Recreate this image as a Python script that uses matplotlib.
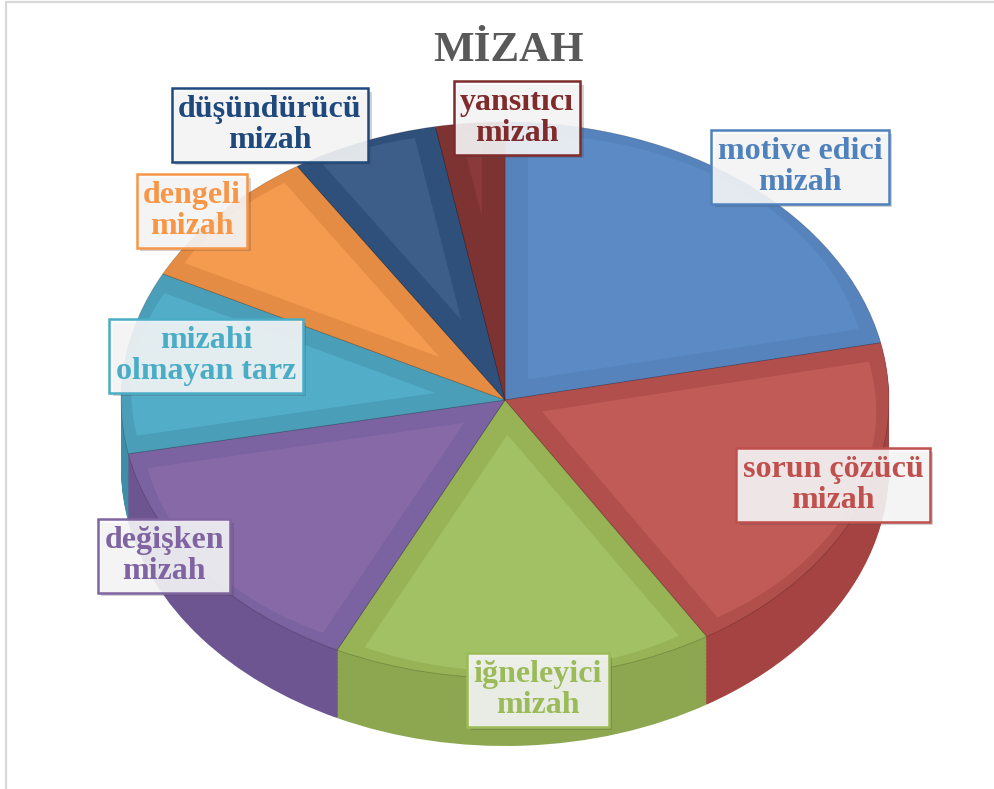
import numpy as np
import matplotlib
matplotlib.use("Agg")
import matplotlib.pyplot as plt
from matplotlib.patheffects import SimplePatchShadow, Normal

# ---- data ----
labels = ["motive edici\nmizah", "sorun çözücü\nmizah", "iğneleyici\nmizah",
          "değişken\nmizah", "mizahi\nolmayan tarz", "dengeli\nmizah",
          "düşündürücü\nmizah", "yansıtıcı\nmizah"]
values = [21.7, 19.5, 16.0, 14.7, 10.6, 8.4, 6.2, 2.9]
title = "MİZAH"

# ---- styles ----
bevel_colors = ["#5683BC", "#B14F4D", "#97B356", "#7B62A0", "#4A9EB8", "#E48C44", "#2F507A", "#7E3333"]
face_colors = ["#5B8AC4", "#C05B58", "#A2C064", "#8769A8", "#52AEC8", "#F59B50", "#3D5E89", "#8A3A3A"]
side_colors = ["#43699C", "#A44341", "#8CA750", "#6C5590", "#3F8EA6", "#D5803A", "#253F62", "#662626"]
text_colors = ["#4F81BD", "#C0504D", "#9BBB59", "#8064A2", "#4BACC6", "#F79646", "#1F497D", "#7F2B2B"]
label_pos = [(800, 167), (833, 485), (538, 690), (164, 556), (206, 356), (192, 211), (270, 125), (517, 118)]

W, H = 994, 789
cx, cy, rx, ry, depth = 505, 400, 384, 278, 68

fig = plt.figure(figsize=(W / 100, H / 100), dpi=100)

# background frame
bg = fig.add_axes([0, 0, 1, 1])
bg.set_xlim(0, W)
bg.set_ylim(H, 0)
bg.axis("off")
bg.plot([6, 6], [1, H], color="#D9D9D9", lw=1.6, solid_capstyle="butt")
bg.plot([5, W], [1.5, 1.5], color="#D9D9D9", lw=1.6, solid_capstyle="butt")

# pie axes
d = depth / ry
ax = fig.add_axes([(cx - rx) / W, (H - (cy + ry + depth)) / H, 2 * rx / W, (2 * ry + depth) / H])

N = 50
for k in range(N, 0, -1):
    off = d * k / N
    ax.pie(values, startangle=90, counterclock=False, colors=side_colors,
           center=(0, -off), radius=1, wedgeprops=dict(linewidth=0))

# top face
ax.pie(values, startangle=90, counterclock=False, colors=bevel_colors,
       center=(0, 0), radius=1,
       wedgeprops=dict(linewidth=0.6, edgecolor="#00000030"))

# inner (bevel-inset) faces
wedges, _ = ax.pie(values, startangle=90, counterclock=False, colors=face_colors,
                   center=(0, 0), radius=1, wedgeprops=dict(linewidth=0))
w_in = 0.06
rim = 0.025
for wd in wedges:
    t1, t2 = np.deg2rad(wd.theta1), np.deg2rad(wd.theta2)
    half = (t2 - t1) / 2
    mid = (t1 + t2) / 2
    s = w_in / np.sin(half) if half < np.pi / 2 else w_in
    r_new = max(1 - s - rim, 0.0)
    wd.set_center((s * np.cos(mid), s * np.sin(mid)))
    wd.set_radius(r_new)

ax.set_aspect("auto")
ax.set_xlim(-1, 1)
ax.set_ylim(-1 - d, 1)
ax.axis("off")

# overlay for text
ov = fig.add_axes([0, 0, 1, 1])
ov.set_xlim(0, W)
ov.set_ylim(H, 0)
ov.axis("off")

ov.text(509, 51, title, ha="center", va="center", fontsize=31, fontweight="bold",
        family="Liberation Serif", color="#595959")

for lab, (x, y), col in zip(labels, label_pos, text_colors):
    t = ov.text(x, y, lab, ha="center", va="center", multialignment="center",
                fontsize=23, fontweight="bold", family="Liberation Serif", color=col,
                linespacing=1.12,
                bbox=dict(boxstyle="square,pad=0.2", fc=(0.975, 0.98, 0.985, 0.88), ec=col, lw=1.8))
    t.get_bbox_patch().set_path_effects([SimplePatchShadow(offset=(2.5, -2.5), alpha=0.25), Normal()])

fig.savefig("out.png", dpi=100)
